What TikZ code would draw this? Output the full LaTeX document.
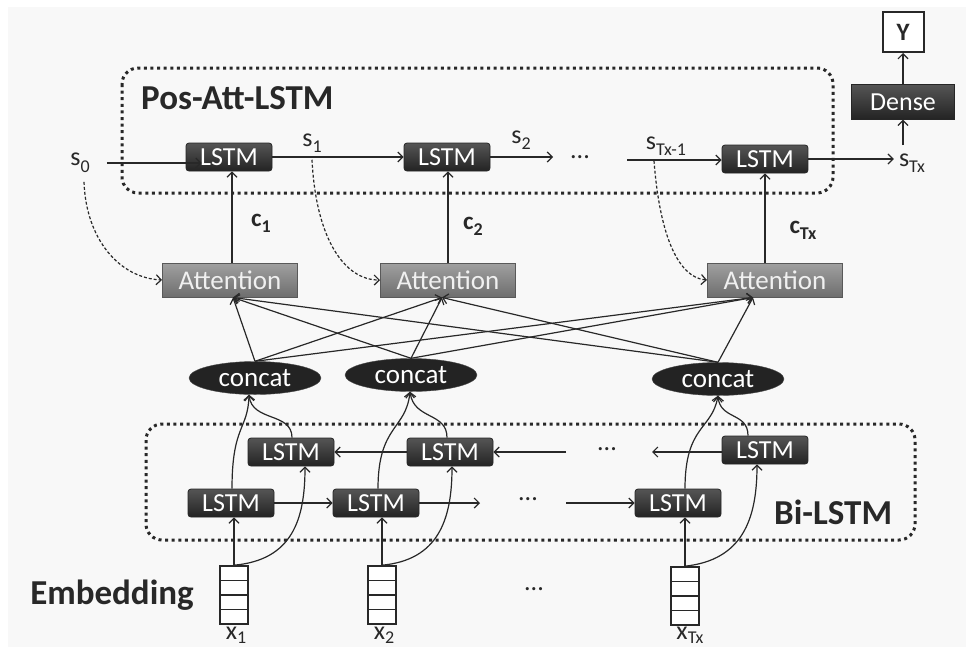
\documentclass[tikz,border=0pt]{standalone}
\usepackage{fontspec}
\setmainfont{Carlito}
\usetikzlibrary{shapes.geometric,arrows.meta,calc}
\definecolor{bgc}{RGB}{248,248,248}
\definecolor{dtop}{RGB}{85,85,85}
\definecolor{dbot}{RGB}{35,35,35}
\definecolor{atop}{RGB}{160,160,160}
\definecolor{abot}{RGB}{110,110,110}
\definecolor{ink}{RGB}{40,40,40}
\newcommand\subs[1]{\raisebox{-0.25em}{\fontsize{18}{18}\selectfont #1}}
\newcommand\subx[1]{\raisebox{-0.15em}{\fontsize{18}{18}\selectfont #1}}
\begin{document}
\begin{tikzpicture}[x=1pt,y=-1pt,
  lstm/.style={rectangle, rounded corners=3pt, minimum width=86, minimum height=28, inner sep=0,
    top color=dtop, bottom color=dbot, draw=black!85, line width=0.8pt, text=white,
    font=\fontsize{26}{26}\selectfont},
  att/.style={rectangle, minimum width=135, minimum height=34, inner sep=0,
    top color=atop, bottom color=abot, draw=black!65, line width=1pt, text=white!94!black,
    font=\fontsize{27}{27}\selectfont},
  cc/.style={ellipse, minimum width=132, minimum height=33, inner sep=0, fill=dbot, draw=black!70,
    text=white, font=\fontsize{27}{27}\selectfont},
  emb/.style={rectangle, minimum width=28, minimum height=58, inner sep=0, fill=white, draw=ink, line width=1.6pt,
    path picture={\foreach \f in {0.25,0.5,0.75}{\draw[ink, line width=1.4pt]
      ($(path picture bounding box.north west)!\f!(path picture bounding box.south west)$) --
      ($(path picture bounding box.north east)!\f!(path picture bounding box.south east)$);}}},
  lbl/.style={text=ink, inner sep=1pt, font=\fontsize{26}{26}\selectfont},
  blbl/.style={text=ink, inner sep=1pt, font=\bfseries\fontsize{25}{25}\selectfont},
  ttl/.style={text=ink, inner sep=0, font=\bfseries\fontsize{35}{35}\selectfont},
  arr/.style={-{Straight Barb[length=5pt,width=10pt]}, line width=1.2pt, draw=ink},
  darr/.style={arr, dash pattern=on 3pt off 2pt},
  dotbox/.style={rounded corners=16pt, line width=3pt, dash pattern=on 3pt off 3.6pt, draw=ink}
]
\useasboundingbox (0,0) rectangle (971,651);
\fill[bgc] (8,7) rectangle (966,647);

% ---------- top: Pos-Att-LSTM ----------
\draw[dotbox] (122,68) rectangle (833,193);
\node[ttl, anchor=west] (tpos) at (141,98) {Pos-Att-LSTM};

\node[lstm] (L1) at (229,157) {LSTM};
\node[lstm] (L2) at (447,157) {LSTM};
\node[lstm] (L3) at (765,159) {LSTM};

\node[lbl] (s0) at (80,163) {s\subs{0}};
\node[lbl] (s1) at (312,143) {s\subs{1}};
\node[lbl] (s2) at (521,140) {s\subs{2}};
\node[lbl] (tdots) at (580,157) {...};
\node[lbl] (sTm) at (666,146) {s\subs{Tx-1}};
\node[lbl] (sTx) at (912,163) {s\subs{Tx}};

\coordinate (s2end) at (553,158);
\coordinate (sTmst) at (627,160);

\draw[arr] ([xshift=16]s0.east) -- ([xshift=16]s0.east -| L1.west);
\draw[arr] (L1.east) -- (L2.west);
\draw[arr] (L2.east) -- (L2.east -| s2end);
\draw[arr] (sTmst) -- (sTmst -| L3.west);
\draw[arr] (L3.east) -- ([xshift=-4]sTx.west |- L3.east);

\node[rectangle, minimum width=103, minimum height=35, inner sep=0, top color=dtop, bottom color=dbot,
  draw=black!85, text=white, font=\fontsize{26}{26}\selectfont] (dense) at (903,102) {Dense};
\node[rectangle, minimum width=41, minimum height=40, inner sep=0, fill=white, draw=ink, line width=2pt,
  font=\bfseries\fontsize{25}{25}\selectfont, text=ink] (Y) at (903,32) {Y};
\draw[arr] (903,145) -- (dense.south);
\draw[arr] (dense.north) -- (Y.south);

% ---------- attention ----------
\node[att] (A1) at (230,280) {Attention};
\node[att] (A2) at (448,280) {Attention};
\node[att] (A3) at (775,280) {Attention};

\draw[arr] ([xshift=2]A1.north) -- ([xshift=2]A1.north |- L1.south);
\draw[arr] (A2.north) -- (A2.north |- L2.south);
\draw[arr] ([xshift=-10]A3.north) -- ([xshift=-10]A3.north |- L3.south);

\node[blbl] (c1) at (261,223) {c\subs{1}};
\node[blbl] (c2) at (473,226) {c\subs{2}};
\node[blbl] (cT) at (803,230) {c\subs{Tx}};

\draw[darr] ([xshift=4,yshift=-8]s0.south) .. controls (86,240) and (120,278) .. (A1.west);
\draw[darr] ([yshift=-6]s1.south) .. controls (316,240) and (345,280) .. (A2.west);
\draw[darr] ([xshift=-12,yshift=-4]sTm.south) .. controls (660,240) and (680,278) .. (A3.west);

% ---------- concat ----------
\node[cc] (C1) at (255,378) {concat};
\node[cc] (C2) at (411,375) {concat};
\node[cc] (C3) at (718,379) {concat};

\foreach \c in {C1,C2,C3}{
  \draw[arr] (\c.north) -- ([xshift=3]A1.south);
  \draw[arr] (\c.north) -- ([xshift=-6]A2.south);
  \draw[arr] (\c.north) -- ([xshift=-22]A3.south);
}

% ---------- Bi-LSTM ----------
\draw[dotbox] (146,424) rectangle (915,540);
\node[ttl, anchor=west] (tbi) at (774,512) {Bi-LSTM};

\node[lstm] (B1) at (291,452) {LSTM};
\node[lstm] (B2) at (450,452) {LSTM};
\node[lstm] (B3) at (765,450) {LSTM};
\node[lstm] (F1) at (231,503) {LSTM};
\node[lstm] (F2) at (376,503) {LSTM};
\node[lstm] (F3) at (678,503) {LSTM};

\node[lbl] (fdots) at (528,499) {...};
\node[lbl] (bdots) at (607,449) {...};
\coordinate (fend) at (480,503);
\coordinate (fst) at (566,503);
\coordinate (bend) at (652,452);
\coordinate (bst) at (566,452);

\draw[arr] (F1.east) -- (F2.west);
\draw[arr] (F2.east) -- (fend);
\draw[arr] (fst) -- (F3.west);
\draw[arr] (B3.west |- bend) -- (bend);
\draw[arr] (bst) -- (B2.east);
\draw[arr] (B2.west) -- (B1.east);

% ---------- embedding ----------
\node[ttl] (temb) at (112,595) {Embedding};
\node[emb] (E1) at (234,595) {};
\node[emb] (E2) at (382,595) {};
\node[emb] (E3) at (685,596) {};
\node[lbl] (x1) at (236,635) {x\subx{1}};
\node[lbl] (x2) at (384,635) {x\subx{2}};
\node[lbl] (xT) at (690,635) {x\subx{Tx}};
\node[lbl] (edots) at (534,589) {...};

% inputs into the Bi-LSTM
\draw[arr] (E1.north) -- (E1.north |- F1.south);
\draw[arr] (E1.north) .. controls (292,560) and (305,520) .. ([xshift=14]B1.south);
\draw[arr] (E2.north) -- (E2.north |- F2.south);
\draw[arr] (E2.north) .. controls (438,560) and (452,520) .. ([xshift=2]B2.south);
\draw[arr] (E3.north) -- (E3.north |- F3.south);
\draw[arr] (E3.north) .. controls (742,560) and (757,520) .. ([xshift=-8]B3.south);

% Bi-LSTM outputs into concat
\draw[arr] ([xshift=1]F1.north) .. controls (232,425) and (248,430) .. ([xshift=-6]C1.south);
\draw[arr] ([xshift=1]B1.north) .. controls (292,412) and (252,422) .. ([xshift=-6]C1.south);
\draw[arr] ([xshift=2]F2.north) .. controls (378,425) and (406,430) .. ([xshift=-1]C2.south);
\draw[arr] ([xshift=-3]B2.north) .. controls (447,412) and (414,420) .. ([xshift=-1]C2.south);
\draw[arr] ([xshift=7]F3.north) .. controls (685,425) and (712,430) .. (C3.south);
\draw[arr] ([xshift=-17]B3.north) .. controls (748,412) and (720,420) .. (C3.south);
\end{tikzpicture}
\end{document}
